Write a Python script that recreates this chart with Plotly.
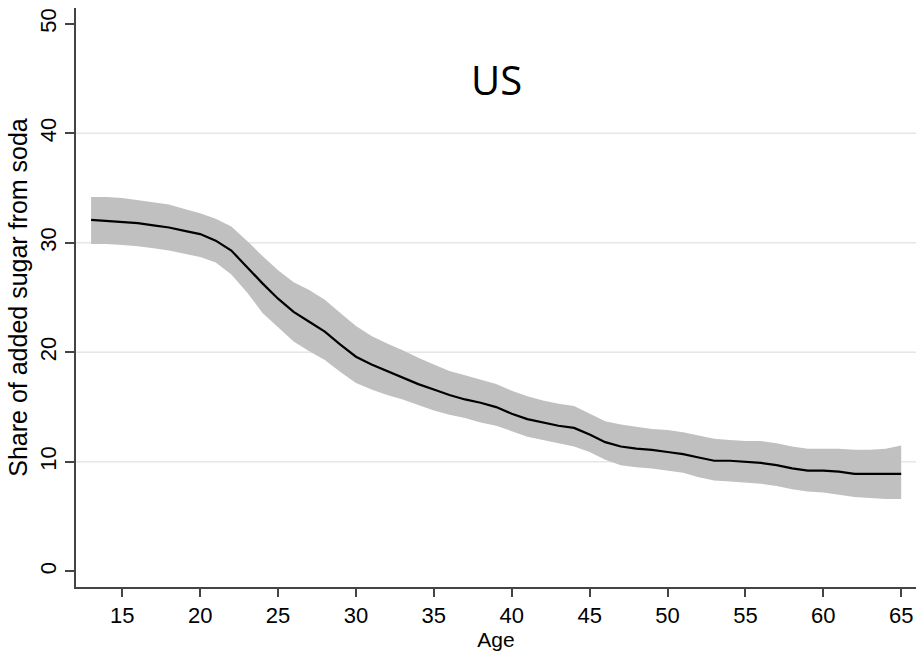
import plotly.graph_objects as go

# Age profile of the share of added sugar coming from soda (US), with confidence band
age = list(range(13, 66))

share_mean = [32.1, 32.0, 31.9, 31.8, 31.6, 31.4, 31.1, 30.8, 30.2, 29.3,
              27.8, 26.3, 24.9, 23.7, 22.8, 21.9, 20.7, 19.6, 18.9, 18.3,
              17.7, 17.1, 16.6, 16.1, 15.7, 15.4, 15.0, 14.4, 13.9, 13.6,
              13.3, 13.1, 12.5, 11.8, 11.4, 11.2, 11.1, 10.9, 10.7, 10.4,
              10.1, 10.1, 10.0, 9.9, 9.7, 9.4, 9.2, 9.2, 9.1, 8.9,
              8.9, 8.9, 8.9]

share_upper = [34.2, 34.2, 34.1, 33.9, 33.7, 33.5, 33.1, 32.7, 32.2, 31.5,
               30.2, 28.8, 27.5, 26.4, 25.7, 24.8, 23.6, 22.4, 21.5, 20.8,
               20.2, 19.5, 18.9, 18.3, 17.9, 17.5, 17.1, 16.5, 16.0, 15.6,
               15.3, 15.1, 14.4, 13.7, 13.4, 13.2, 13.0, 12.9, 12.7, 12.4,
               12.1, 12.0, 11.9, 11.9, 11.7, 11.4, 11.2, 11.2, 11.2, 11.1,
               11.1, 11.2, 11.5]

share_lower = [29.9, 29.9, 29.8, 29.7, 29.5, 29.3, 29.0, 28.7, 28.2, 27.1,
               25.5, 23.6, 22.3, 21.0, 20.1, 19.3, 18.2, 17.2, 16.6, 16.1,
               15.7, 15.2, 14.7, 14.3, 14.0, 13.6, 13.3, 12.8, 12.3, 12.0,
               11.7, 11.4, 10.9, 10.2, 9.7, 9.5, 9.4, 9.2, 9.0, 8.6,
               8.3, 8.2, 8.1, 8.0, 7.8, 7.5, 7.3, 7.2, 7.0, 6.8,
               6.7, 6.6, 6.6]

x_ticks = [15, 20, 25, 30, 35, 40, 45, 50, 55, 60, 65]
y_ticks = [0, 10, 20, 30, 40, 50]
y_grid = [10, 20, 30, 40]

FONT = "Liberation Sans, Arial, sans-serif"

fig = go.Figure()

# confidence band
fig.add_trace(go.Scatter(x=age, y=share_upper, mode="lines",
                         line=dict(width=0, color="#c0c0c0"),
                         showlegend=False, hoverinfo="skip"))
fig.add_trace(go.Scatter(x=age, y=share_lower, mode="lines",
                         line=dict(width=0, color="#c0c0c0"),
                         fill="tonexty", fillcolor="#c0c0c0",
                         showlegend=False, hoverinfo="skip"))
# point estimate
fig.add_trace(go.Scatter(x=age, y=share_mean, mode="lines",
                         line=dict(width=2.2, color="#000000"),
                         showlegend=False))

# horizontal grid lines at interior ticks only
for g in y_grid:
    fig.add_shape(type="line", xref="paper", x0=0, x1=1, yref="y", y0=g, y1=g,
                  line=dict(color="#e6e6e6", width=1.5), layer="below")

fig.add_annotation(text="US", xref="paper", yref="paper", x=0.5, y=0.876,
                   xanchor="center", yanchor="middle", showarrow=False,
                   font=dict(family="Open Sans, sans-serif", size=40, color="#000000"))

fig.update_layout(
    width=917, height=651,
    margin=dict(l=76, r=1, t=8, b=64),
    paper_bgcolor="white", plot_bgcolor="white",
    font=dict(family=FONT, color="#000000"),
    showlegend=False,
)

fig.update_xaxes(
    range=[12.03, 65.95], tickvals=x_ticks, showgrid=False, zeroline=False,
    showline=True, linecolor="#444444", linewidth=1.5,
    ticks="outside", ticklen=8, tickwidth=1.5, tickcolor="#444444",
    tickfont=dict(size=22, family=FONT),
    title=dict(text="Age", font=dict(size=21, family=FONT), standoff=3),
)
fig.update_yaxes(
    range=[-1.43, 51.45], tickvals=y_ticks, showgrid=False, zeroline=False,
    showline=True, linecolor="#444444", linewidth=1.5,
    ticks="outside", ticklen=9, tickwidth=1.5, tickcolor="#444444",
    tickangle=-90, tickfont=dict(size=22, family=FONT),
    title=dict(text="Share of added sugar from soda",
               font=dict(size=25, family=FONT), standoff=2),
)

fig.write_html("out.html")
